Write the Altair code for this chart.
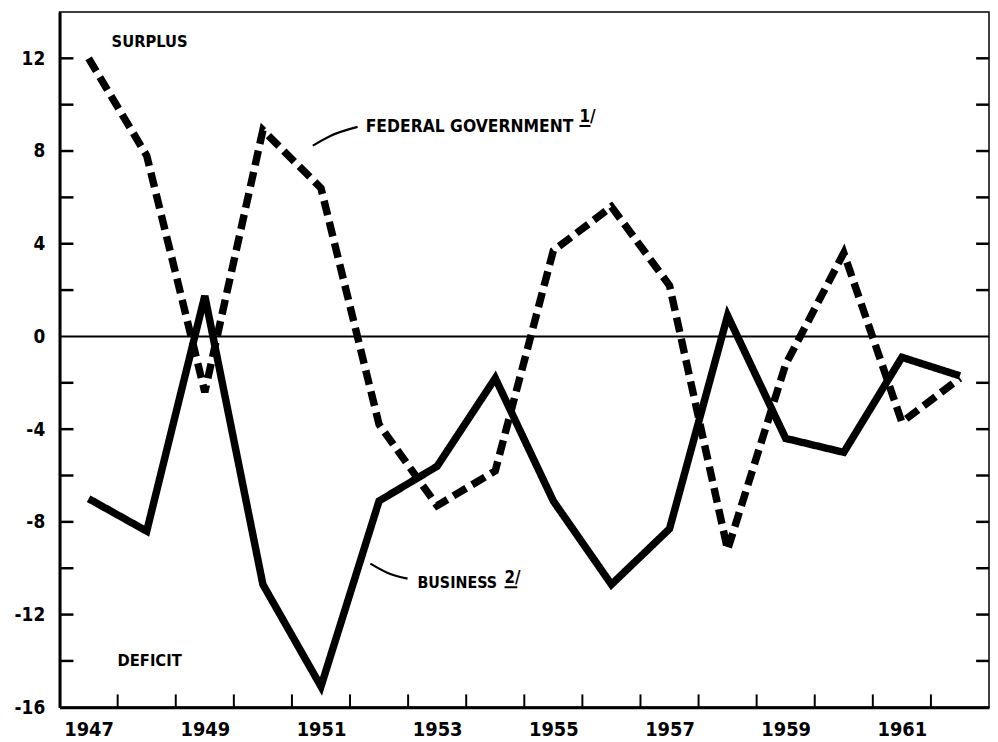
import altair as alt
import pandas as pd

years = list(range(1947, 1963))
federal = [12.0, 7.8, -2.4, 8.9, 6.4, -3.8, -7.3, -5.8, 3.7, 5.6, 2.2, -9.2, -1.2, 3.6, -3.7, -1.8]
business = [-7.0, -8.4, 1.75, -10.7, -15.1, -7.1, -5.6, -1.8, -7.1, -10.7, -8.3, 0.9, -4.4, -5.0, -0.9, -1.7]

x_label_years = [1947, 1949, 1951, 1953, 1955, 1957, 1959, 1961]
y_label_values = [-16, -12, -8, -4, 0, 4, 8, 12]
y_minor_ticks = [-14, -12, -10, -8, -6, -4, -2, 2, 4, 6, 8, 10, 12]
x_minor_ticks = [1947.5, 1948.5, 1949.5, 1950.5, 1951.5, 1952.5, 1953.5, 1954.5,
                 1955.5, 1956.5, 1957.5, 1958.5, 1959.5, 1960.5, 1961.5]

ann_text = ["SURPLUS", "DEFICIT", "FEDERAL GOVERNMENT", "BUSINESS"]
ann_x = [1948.05, 1948.05, 1951.77, 1952.66]
ann_y = [12.7, -14.0, 9.05, -10.66]
ann_size = [16.5, 16.5, 17.5, 16]
ann_align = ["center", "center", "left", "left"]

note_text = ["1/", "2/"]
note_x = [1955.45, 1954.16]
note_y = [9.45, -10.42]
underline_x = [1955.45, 1954.16]
underline_x2 = [1955.64, 1954.38]
underline_y = [9.08, -10.82]

fed_leader_x = [1950.86, 1951.17, 1951.63]
fed_leader_y = [8.23, 8.66, 9.04]
bus_leader_x = [1951.85, 1952.14, 1952.49]
bus_leader_y = [-9.80, -10.19, -10.45]

FONT = "DejaVu Sans Condensed"
W, H = 937, 701

df = pd.DataFrame({
    "year": years * 2,
    "value": federal + business,
    "series": ["Federal Government"] * len(years) + ["Business"] * len(years),
})

xs = alt.Scale(domain=[1946.5, 1962.5], nice=False, zero=False)
ys = alt.Scale(domain=[-16, 14], nice=False, zero=False)

base_x_axis = alt.Axis(values=x_label_years, format="d", tickSize=0, domainWidth=3,
                       domainColor="black", labelFont=FONT, labelFontSize=20,
                       labelFontWeight="bold", labelColor="black", labelPadding=12,
                       grid=False, title=None)
base_y_axis = alt.Axis(values=y_label_values, tickSize=0, domainWidth=3,
                       domainColor="black", labelFont=FONT, labelFontSize=19,
                       labelFontWeight="bold", labelColor="black", labelPadding=15,
                       labelExpr="toString(datum.value)",
                       grid=False, title=None)

lines = alt.Chart(df).mark_line(color="black", strokeWidth=7.5, strokeCap="butt").encode(
    x=alt.X("year:Q", scale=xs, axis=base_x_axis),
    y=alt.Y("value:Q", scale=ys, axis=base_y_axis),
    strokeDash=alt.StrokeDash("series:N",
                              scale=alt.Scale(domain=["Federal Government", "Business"],
                                              range=[[15, 7], [1, 0]]),
                              legend=None),
    detail="series:N",
)

zero = alt.Chart(pd.DataFrame({"v": [0]})).mark_rule(color="black", strokeWidth=2).encode(
    y=alt.Y("v:Q", scale=ys)
)

yt = pd.DataFrame({"v": y_minor_ticks})
left_ticks = alt.Chart(yt).mark_rule(color="black", strokeWidth=2.5).encode(
    y=alt.Y("v:Q", scale=ys), x=alt.value(0), x2=alt.value(14)
)
right_ticks = alt.Chart(yt).mark_rule(color="black", strokeWidth=2.5).encode(
    y=alt.Y("v:Q", scale=ys), x=alt.value(W - 13), x2=alt.value(W)
)
xt = pd.DataFrame({"v": x_minor_ticks})
bottom_ticks = alt.Chart(xt).mark_rule(color="black", strokeWidth=2).encode(
    x=alt.X("v:Q", scale=xs), y=alt.value(H), y2=alt.value(H - 13)
)

ann = pd.DataFrame({"t": ann_text, "x": ann_x, "y": ann_y, "s": ann_size, "a": ann_align})
ann_center = alt.Chart(ann[ann["a"] == "center"]).mark_text(
    font=FONT, fontWeight="bold", color="black", align="center", baseline="middle"
).encode(x=alt.X("x:Q", scale=xs), y=alt.Y("y:Q", scale=ys), text="t:N",
         size=alt.Size("s:Q", scale=None, legend=None))
ann_left = alt.Chart(ann[ann["a"] == "left"]).mark_text(
    font=FONT, fontWeight="bold", color="black", align="left", baseline="middle"
).encode(x=alt.X("x:Q", scale=xs), y=alt.Y("y:Q", scale=ys), text="t:N",
         size=alt.Size("s:Q", scale=None, legend=None))

notes = pd.DataFrame({"t": note_text, "x": note_x, "y": note_y})
note_marks = alt.Chart(notes).mark_text(
    font=FONT, fontSize=17, fontWeight="bold", color="black", align="left", baseline="middle"
).encode(x=alt.X("x:Q", scale=xs), y=alt.Y("y:Q", scale=ys), text="t:N")

ul = pd.DataFrame({"x": underline_x, "x2": underline_x2, "y": underline_y})
ul_marks = alt.Chart(ul).mark_rule(color="black", strokeWidth=2).encode(
    x=alt.X("x:Q", scale=xs), x2="x2:Q", y=alt.Y("y:Q", scale=ys)
)

leaders = pd.DataFrame({
    "x": fed_leader_x + bus_leader_x,
    "y": fed_leader_y + bus_leader_y,
    "g": ["f"] * 3 + ["b"] * 3,
})
leader_marks = alt.Chart(leaders).mark_line(color="black", strokeWidth=2.2, interpolate="monotone").encode(
    x=alt.X("x:Q", scale=xs), y=alt.Y("y:Q", scale=ys), detail="g:N"
)

chart = alt.layer(
    zero, left_ticks, right_ticks, bottom_ticks, lines, leader_marks,
    ann_center, ann_left, note_marks, ul_marks
).properties(
    width=W, height=H,
    autosize=alt.AutoSizeParams(type="none"),
    padding={"left": 52, "top": 1, "right": 1, "bottom": 32},
    background="white",
).configure_view(
    stroke="black", strokeWidth=1.5
)

chart.save("out.html", embed_options={"renderer": "svg", "actions": False})
